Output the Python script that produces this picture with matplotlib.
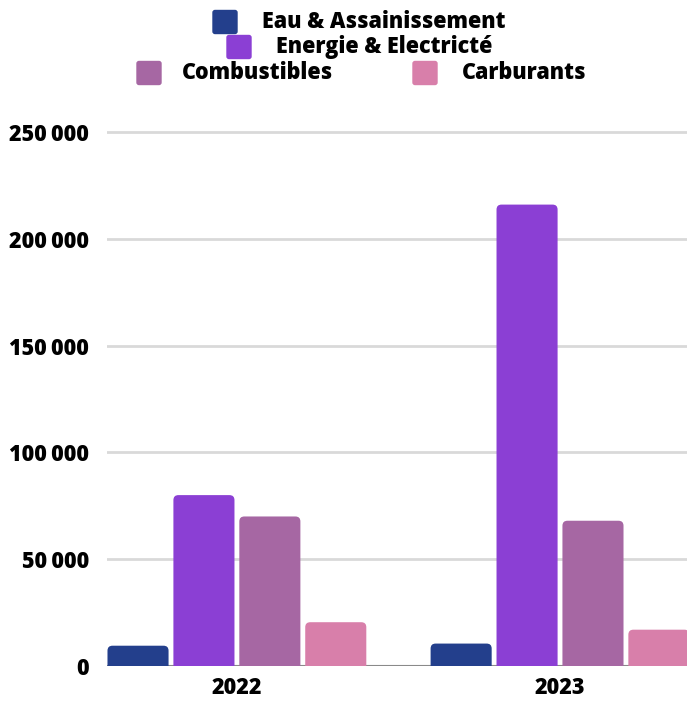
import numpy as np
import matplotlib
matplotlib.use("Agg")
import matplotlib.pyplot as plt
from matplotlib.patches import FancyBboxPatch
from matplotlib.ticker import FuncFormatter

# data
years = ["2022", "2023"]
series = ["Eau & Assainissement", "Energie & Electricté", "Combustibles", "Carburants"]
eau = [9500, 10500]
energie = [80000, 216000]
combustibles = [70000, 68000]
carburants = [20500, 17000]
colors = ["#233f8c", "#8b3fd4", "#a667a3", "#d87faa"]

plt.rcParams['font.family'] = ['Open Sans', 'DejaVu Sans']
plt.rcParams['font.weight'] = 800

fig = plt.figure(figsize=(6.87, 7.01), dpi=100)
ax = fig.add_axes([107/687, 1 - 666/701, 1 - 107/687, (666 - 110.6)/701])

x = np.arange(len(years))
step = 0.204
w = 0.189
values = [eau, energie, combustibles, carburants]
ax.set_xlim(-0.402, 1.393)
ax.set_ylim(0, 260000)

# rounded tops: radius of ~5 px in both directions
rx = 5 / 323
ry = 5 * 1000 / 2.136
for i, (vals, c) in enumerate(zip(values, colors)):
    bars = ax.bar(x + (i - 1.5) * step, vals, width=w, color=c, zorder=3)
    for b in bars:
        b.set_visible(False)
        p = FancyBboxPatch((b.get_x(), -ry), b.get_width(), b.get_height() + ry,
                           boxstyle=f"round,pad=0,rounding_size={rx}",
                           mutation_aspect=ry / rx, facecolor=c, edgecolor='none', zorder=3)
        ax.add_patch(p)

ax.set_yticks([0, 50000, 100000, 150000, 200000, 250000])
ax.yaxis.set_major_formatter(FuncFormatter(lambda v, p: f"{int(v):,}".replace(",", "\u2009") if v else "0"))
ax.grid(axis='y', color='#d9d9d9', lw=2, zorder=0)
ax.axhline(0, color='#8a8a8a', lw=1.5, zorder=2)
ax.set_xticks(x)
ax.set_xticklabels(years)
for s in ax.spines.values():
    s.set_visible(False)
ax.tick_params(length=0, labelsize=15.5)
ax.tick_params(axis='y', pad=13)
ax.tick_params(axis='x', pad=7)

# legend, laid out like the original (3 rows)
leg = [(213, 22, 262), (227, 47, 276), (137, 73, 182), (413, 73, 462)]
for (mx, my, tx), name, c in zip(leg, series, colors):
    fig.patches.append(FancyBboxPatch((mx/687, 1 - (my + 11.5)/701), 24/687, 23/701,
                                      boxstyle="round,pad=0,rounding_size=0.003",
                                      transform=fig.transFigure, color=c))
    fig.text(tx/687, 1 - my/701, name, fontsize=15.5, fontweight=800,
             va='center', ha='left')

fig.savefig("out.png", dpi=100)
